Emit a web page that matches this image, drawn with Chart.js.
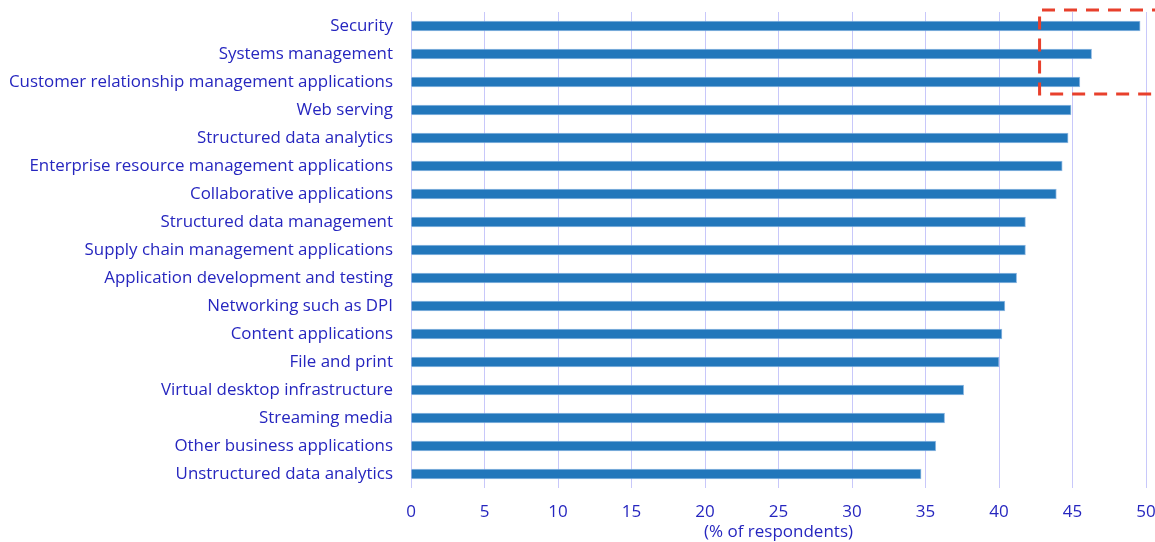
<!DOCTYPE html>
<html>
<head>
<meta charset="utf-8">
<script src="https://cdn.jsdelivr.net/npm/chart.js@4/dist/chart.umd.min.js"></script>
<style>
  html, body { margin: 0; padding: 0; background: #fff; }
  #wrap { width: 1155px; height: 542px; position: relative; }
</style>
</head>
<body>
<div id="wrap"><canvas id="chart"></canvas></div>
<script>
const categories = [
  "Security",
  "Systems management",
  "Customer relationship management applications",
  "Web serving",
  "Structured data analytics",
  "Enterprise resource management applications",
  "Collaborative applications",
  "Structured data management",
  "Supply chain management applications",
  "Application development and testing",
  "Networking such as DPI",
  "Content applications",
  "File and print",
  "Virtual desktop infrastructure",
  "Streaming media",
  "Other business applications",
  "Unstructured data analytics",
];
const respondents = [
  49.6, 46.3, 45.5, 44.9, 44.7, 44.3, 43.9, 41.8, 41.8, 41.2, 40.4, 40.2,
  40.0, 37.6, 36.3, 35.7, 34.7,
];
const xTicks = [0, 5, 10, 15, 20, 25, 30, 35, 40, 45, 50];
const axisTitle = "(% of respondents)";
// highlighted group: from this x value, over the first three categories
const highlightFrom = 42.76;
const highlightCount = 3;

const textColor = "#2626bf";
const fontFamily = "'Open Sans', 'Noto Sans', sans-serif";

const highlightBox = {
  id: "highlightBox",
  afterDraw(chart) {
    const { ctx, scales } = chart;
    const x = scales.x.getPixelForValue(highlightFrom);
    const top = scales.y.getPixelForValue(0) - 16;
    const bottom =
      (scales.y.getPixelForValue(highlightCount - 1) +
        scales.y.getPixelForValue(highlightCount)) / 2 - 2;
    const right = chart.width + 10;
    ctx.save();
    ctx.strokeStyle = "#e8402c";
    ctx.lineWidth = 3;
    ctx.setLineDash([13, 9]);
    ctx.beginPath();
    ctx.moveTo(right, top);
    ctx.lineTo(x, top);
    ctx.lineTo(x, bottom);
    ctx.lineTo(right, bottom);
    ctx.stroke();
    ctx.restore();
  },
};

new Chart(document.getElementById("chart"), {
  type: "bar",
  data: {
    labels: categories,
    datasets: [
      {
        data: respondents,
        backgroundColor: "#2277bb",
        borderColor: "rgba(120,170,220,0.8)",
        borderWidth: 1,
        barThickness: 10,
      },
    ],
  },
  options: {
    indexAxis: "y",
    responsive: true,
    maintainAspectRatio: false,
    animation: false,
    layout: { padding: { top: 12, right: 9, left: 0, bottom: 0 } },
    plugins: {
      legend: { display: false },
      tooltip: { enabled: false },
    },
    scales: {
      x: {
        min: 0,
        max: 50,
        afterBuildTicks(axis) {
          axis.ticks = xTicks.map((v) => ({ value: v }));
        },
        grid: { color: "#c8c8fa", lineWidth: 1, drawTicks: false },
        border: { display: false },
        ticks: {
          color: textColor,
          font: { family: fontFamily, size: 17 },
          padding: 14,
          maxRotation: 0,
        },
        title: {
          display: true,
          text: axisTitle,
          color: textColor,
          font: { family: fontFamily, size: 17 },
          padding: { top: 3, bottom: 0 },
        },
        afterFit(axis) {
          axis.height = 54;
          axis.paddingLeft = 0;
          axis.paddingRight = 0;
        },
      },
      y: {
        grid: { display: false, drawTicks: false },
        border: { display: false },
        ticks: {
          color: textColor,
          font: { family: fontFamily, size: 16.9 },
          padding: 18,
          autoSkip: false,
        },
        afterFit(axis) {
          axis.width = 411;
          axis.paddingTop = 0;
          axis.paddingBottom = 0;
        },
      },
    },
  },
  plugins: [highlightBox],
});
</script>
</body>
</html>
